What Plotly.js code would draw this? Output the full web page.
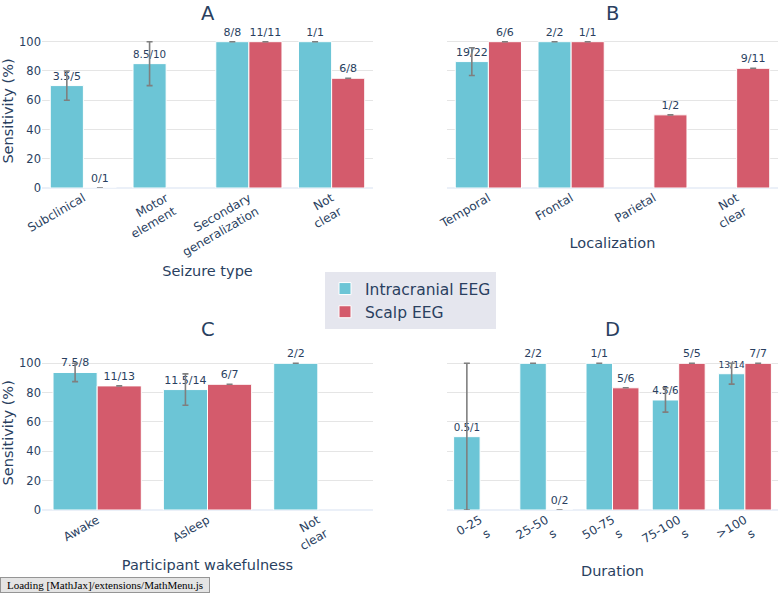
<!DOCTYPE html>
<html>
<head>
<meta charset="utf-8">
<script src="https://cdn.plot.ly/plotly-3.0.1.min.js"></script>
<style>
  html, body { margin: 0; padding: 0; background: #fff; }
  #chart { width: 778px; height: 594px; }
  #mjx { position: fixed; left: 0; bottom: 1px; background: #E4E4E4; border: 1px solid #959595;
         font-family: "Liberation Serif", "DejaVu Serif", serif; font-size: 11px; padding: 1px 6px; color: #000; }
</style>
</head>
<body>
<div id="chart"></div>
<div id="mjx">Loading [MathJax]/extensions/MathMenu.js</div>
<script>
// ---- Data ----
const seriesNames = ['Intracranial EEG', 'Scalp EEG'];

const catsA = ['Subclinical', 'Motor<br>element', 'Secondary<br>generalization', 'Not<br>clear'];
const icA = [70, 85, 100, 100];
const icAErr = [10, 15, 0, 0];
const icAText = ['3.5/5', '8.5/10', '8/8', '1/1'];
const scA = [0, null, 100, 75];
const scAErr = [0, null, 0, 0];
const scAText = ['0/1', '', '11/11', '6/8'];

const catsB = ['Temporal', 'Frontal', 'Parietal', 'Not<br>clear'];
const icB = [86.4, 100, null, null];
const icBErr = [9.5, 0, null, null];
const icBText = ['19/22', '2/2', '', ''];
const scB = [100, 100, 50, 81.8];
const scBErr = [0, 0, 0, 0];
const scBText = ['6/6', '1/1', '1/2', '9/11'];

const catsC = ['Awake', 'Asleep', 'Not<br>clear'];
const icC = [93.75, 82.1, 100];
const icCErr = [6.25, 10.7, 0];
const icCText = ['7.5/8', '11.5/14', '2/2'];
const scC = [84.6, 85.7, null];
const scCErr = [0, 0, null];
const scCText = ['11/13', '6/7', ''];

const catsD = ['0-25<br>s', '25-50<br>s', '50-75<br>s', '75-100<br>s', '&gt;100<br>s'];
const icD = [50, 100, 100, 75, 92.9];
const icDErr = [50, 0, 0, 8.3, 7.1];
const icDText = ['0.5/1', '2/2', '1/1', '4.5/6', '13/14'];
const scD = [null, 0, 83.3, 100, 100];
const scDErr = [null, 0, 0, 0, 0];
const scDText = ['', '0/2', '5/6', '5/5', '7/7'];

const panelTitles = ['A', 'B', 'C', 'D'];
const axisTitles = ['Seizure type', 'Localization', 'Participant wakefulness', 'Duration'];
const yTitle = 'Sensitivity (%)';

// ---- Style ----
const colIC = 'rgb(108,197,214)';
const colSC = 'rgb(212,91,108)';
const fontFam = '"DejaVu Sans", Verdana, sans-serif';
const txtCol = '#2a3f5f';

function barTrace(x, y, err, text, name, color, xa, ya, show) {
  return {
    type: 'bar', x: x, y: y, name: name, legendgroup: name, showlegend: show,
    xaxis: xa, yaxis: ya,
    marker: { color: color, line: { color: '#ffffff', width: 1 } },
    error_y: { type: 'data', array: err, visible: true, color: '#7f7f7f', thickness: 1.6, width: 3 },
    text: text, textposition: 'outside', cliponaxis: false,
    textfont: { size: 11, color: txtCol, family: fontFam }
  };
}

const data = [
  barTrace(catsA, icA, icAErr, icAText, seriesNames[0], colIC, 'x', 'y', true),
  barTrace(catsA, scA, scAErr, scAText, seriesNames[1], colSC, 'x', 'y', true),
  barTrace(catsB, icB, icBErr, icBText, seriesNames[0], colIC, 'x2', 'y2', false),
  barTrace(catsB, scB, scBErr, scBText, seriesNames[1], colSC, 'x2', 'y2', false),
  barTrace(catsC, icC, icCErr, icCText, seriesNames[0], colIC, 'x3', 'y3', false),
  barTrace(catsC, scC, scCErr, scCText, seriesNames[1], colSC, 'x3', 'y3', false),
  barTrace(catsD, icD, icDErr, icDText, seriesNames[0], colIC, 'x4', 'y4', false),
  barTrace(catsD, scD, scDErr, scDText, seriesNames[1], colSC, 'x4', 'y4', false)
];

const W = 778, H = 594;
const leftDom = [42 / W, 373 / W];
const rightDom = [447 / W, 1];
const topDom = [1 - 188 / H, 1 - 34 / H];
const botDom = [1 - 510 / H, 1 - 355.6 / H];

function xax(dom, anchor, title) {
  return {
    domain: dom, anchor: anchor, tickangle: -30, type: 'category',
    tickfont: { size: 12, color: txtCol, family: fontFam },
    title: { text: title, font: { size: 14.5, color: txtCol, family: fontFam }, standoff: 7 },
    showgrid: false, zeroline: false, showline: false, ticks: ''
  };
}
function yax(dom, anchor, showLabels) {
  return {
    domain: dom, anchor: anchor, range: [0, 105.26], dtick: 20,
    showticklabels: showLabels, gridcolor: '#E5E5E5', gridwidth: 1,
    zeroline: true, zerolinecolor: '#EBF0F8', zerolinewidth: 2,
    tickfont: { size: 11.5, color: txtCol, family: fontFam },
    title: showLabels ? { text: yTitle, font: { size: 14.5, color: txtCol, family: fontFam }, standoff: 4 } : { text: '' },
    ticks: '', showline: false
  };
}

const annots = [
  { text: panelTitles[0], x: (42 + 373) / 2 / W, y: 1 },
  { text: panelTitles[1], x: (447 + 778) / 2 / W, y: 1 },
  { text: panelTitles[2], x: (42 + 373) / 2 / W, y: 1 - 316 / H },
  { text: panelTitles[3], x: (447 + 778) / 2 / W, y: 1 - 316 / H }
].map(a => Object.assign(a, {
  xref: 'paper', yref: 'paper', xanchor: 'center', yanchor: 'top', showarrow: false,
  font: { size: 19.5, color: txtCol, family: fontFam }
}));

const layout = {
  width: W, height: H,
  margin: { l: 0, r: 0, t: 0, b: 0 },
  paper_bgcolor: '#ffffff', plot_bgcolor: '#ffffff',
  font: { family: fontFam, color: txtCol },
  barmode: 'group', bargap: 0.2, bargroupgap: 0,
  showlegend: true,
  legend: {
    x: 325 / W, y: 1 - 272 / H, xanchor: 'left', yanchor: 'top',
    bgcolor: '#E5E6EE', font: { size: 15.5, color: txtCol, family: fontFam },
    tracegroupgap: 0
  },
  xaxis: xax(leftDom, 'y', axisTitles[0]),
  yaxis: yax(topDom, 'x', true),
  xaxis2: xax(rightDom, 'y2', axisTitles[1]),
  yaxis2: yax(topDom, 'x2', false),
  xaxis3: xax(leftDom, 'y3', axisTitles[2]),
  yaxis3: yax(botDom, 'x3', true),
  xaxis4: xax(rightDom, 'y4', axisTitles[3]),
  yaxis4: yax(botDom, 'x4', false),
  annotations: annots
};

Plotly.newPlot('chart', data, layout, { displayModeBar: false, staticPlot: true });
</script>
</body>
</html>
